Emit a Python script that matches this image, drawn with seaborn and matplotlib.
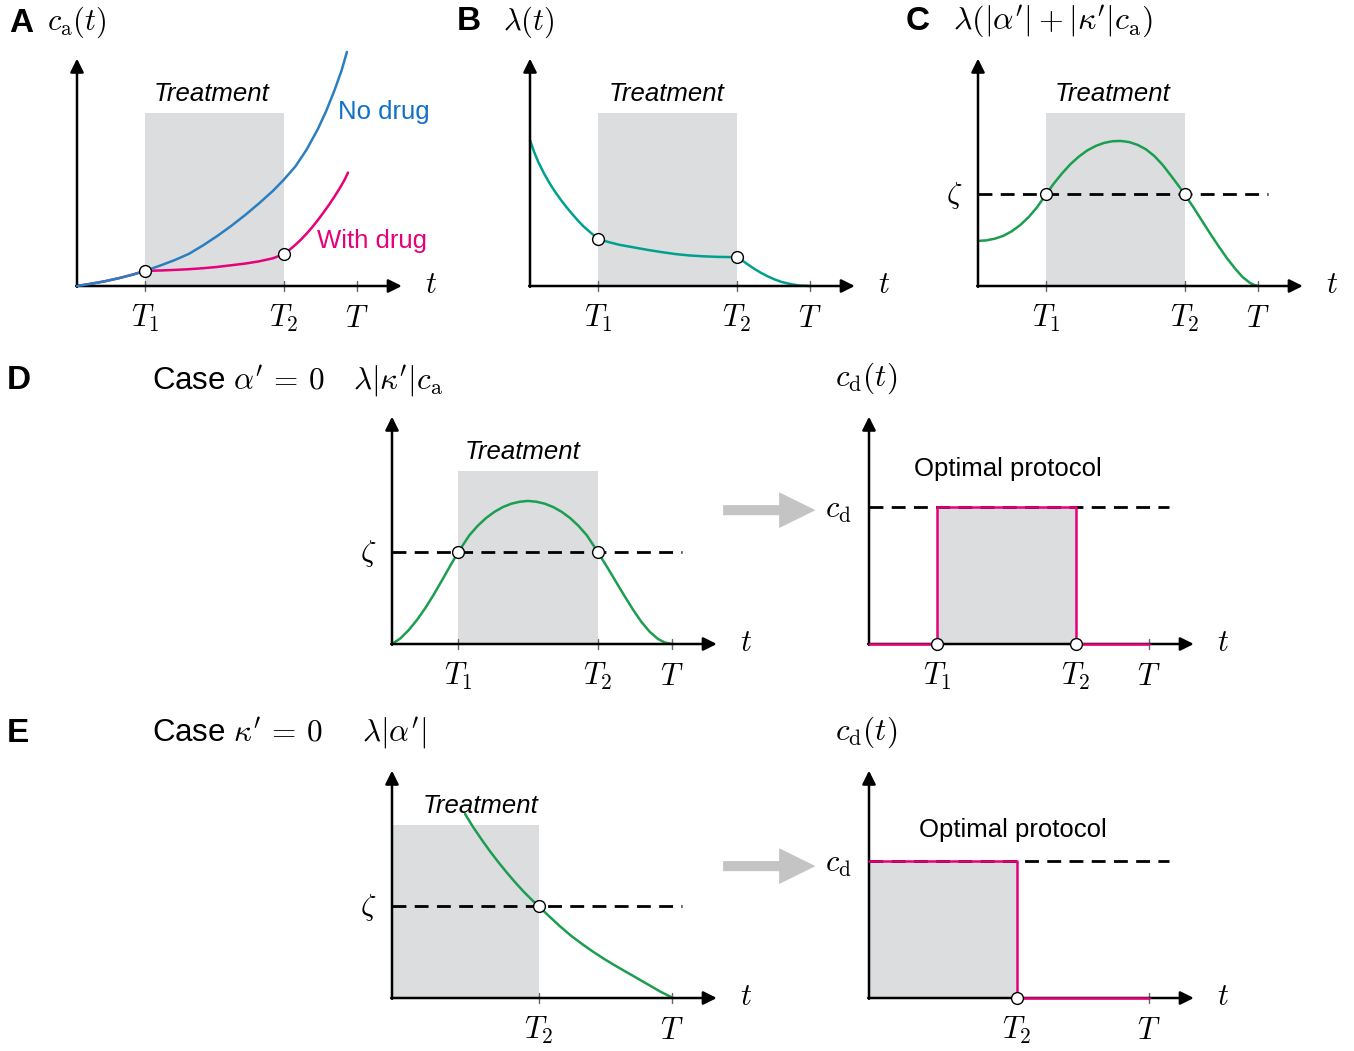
import numpy as np
import pandas as pd
import matplotlib
matplotlib.use("Agg")
import matplotlib.pyplot as plt
import seaborn as sns

sns.set_style("white")
plt.rcParams["font.family"] = ["Liberation Sans", "DejaVu Sans"]
plt.rcParams["mathtext.fontset"] = "cm"
plt.rcParams["text.color"] = "black"
plt.rcParams["lines.solid_joinstyle"] = "round"
plt.rcParams["lines.solid_capstyle"] = "round"

# ---------------- data (schematic units) ----------------
T1, T2, T = 2.43, 7.38, 10.0
T1_D, T2_D = 2.36, 7.36
T2_E = 5.25
T2_ER = 5.29
zeta = 3.27
cd_level = 4.89
shade_top = 6.18

tick_labels_3 = [r"$T_1$", r"$T_2$", r"$T$"]
tick_labels_2 = [r"$T_2$", r"$T$"]

# Panel A: c_a(t)
a_t = [0, 0.5, 1, 1.5, 2, 2.43, 3, 3.5, 4, 4.5, 5, 5.5, 6, 6.5, 7, 7.38, 7.8, 8.2, 8.6, 8.9, 9.2, 9.45, 9.64]
a_nodrug = [0, 0.08, 0.17, 0.28, 0.41, 0.54, 0.74, 0.93, 1.15, 1.45, 1.78, 2.14, 2.53, 2.95, 3.4, 3.79, 4.27, 4.87, 5.6, 6.25, 7.0, 7.7, 8.36]
a_drug_t = [0, 0.5, 1, 1.5, 2, 2.43, 3, 3.5, 4, 4.5, 5, 5.5, 6, 6.5, 7, 7.38, 7.6, 7.8, 8.0, 8.2, 8.4, 8.6, 8.8, 9.0, 9.2, 9.4, 9.55, 9.68]
a_drug = [0, 0.08, 0.17, 0.28, 0.41, 0.54, 0.555, 0.575, 0.6, 0.635, 0.68, 0.74, 0.8, 0.88, 0.99, 1.14, 1.3, 1.47, 1.66, 1.87, 2.1, 2.35, 2.62, 2.9, 3.2, 3.52, 3.78, 4.05]

# Panel B: lambda(t)
b_t = [0, 0.15, 0.3, 0.5, 0.7, 0.9, 1.1, 1.3, 1.5, 1.7, 1.9, 2.15, 2.43, 2.8, 3.2, 3.7, 4.2, 4.7, 5.2, 5.7, 6.2, 6.7, 7.38,
       7.55, 7.75, 8.0, 8.25, 8.5, 8.75, 9.0, 9.3, 9.6, 10]
b_val = [5.21, 4.78, 4.42, 4.02, 3.67, 3.36, 3.08, 2.82, 2.58, 2.35, 2.14, 1.92, 1.68, 1.57, 1.47, 1.38, 1.29, 1.21, 1.14, 1.09, 1.06, 1.04, 1.03,
         0.93, 0.79, 0.62, 0.47, 0.34, 0.23, 0.14, 0.07, 0.02, 0.0]

# Panel C: lambda(|alpha'| + |kappa'| c_a)
c_t = [0, 0.3, 0.6, 0.9, 1.2, 1.5, 1.8, 2.1, 2.43, 2.7, 3.0, 3.3, 3.6, 3.9, 4.2, 4.5, 4.8, 5.1, 5.4, 5.7, 6.0, 6.3, 6.6, 6.9, 7.2, 7.38,
       7.7, 8.0, 8.3, 8.6, 8.9, 9.2, 9.45, 9.7, 9.85, 10]
c_val = [1.61, 1.63, 1.69, 1.79, 1.95, 2.17, 2.45, 2.8, 3.27, 3.65, 4.02, 4.35, 4.62, 4.84, 5.0, 5.11, 5.17, 5.18, 5.14, 5.04, 4.88, 4.64, 4.32, 3.93, 3.53, 3.27,
         2.8, 2.33, 1.86, 1.41, 0.98, 0.6, 0.32, 0.12, 0.04, 0.0]

# Panel D: lambda|kappa'|c_a
d_t = [0, 0.3, 0.6, 0.9, 1.2, 1.5, 1.8, 2.1, 2.36, 2.76, 3.06, 3.36, 3.66, 3.96, 4.26, 4.56, 4.86, 5.16, 5.46, 5.76, 6.06, 6.36, 6.66, 6.96, 7.36,
       7.7, 8.0, 8.3, 8.6, 8.9, 9.2, 9.5, 9.75, 10]
d_val = [0, 0.2, 0.5, 0.87, 1.3, 1.78, 2.3, 2.83, 3.27, 3.88, 4.22, 4.5, 4.72, 4.89, 5.01, 5.08, 5.11, 5.08, 5.01, 4.89, 4.72, 4.5, 4.22, 3.88, 3.27,
         2.72, 2.22, 1.72, 1.24, 0.8, 0.44, 0.18, 0.05, 0.0]

# Panel E: lambda|alpha'|
e_t = [2.61, 2.9, 3.2, 3.5, 3.8, 4.1, 4.4, 4.7, 5.0, 5.25, 5.6, 6.0, 6.4, 6.8, 7.2, 7.6, 8.0, 8.4, 8.8, 9.2, 9.6, 10]
e_val = [6.57, 6.1, 5.66, 5.24, 4.85, 4.48, 4.13, 3.8, 3.5, 3.27, 2.93, 2.56, 2.22, 1.92, 1.64, 1.38, 1.14, 0.91, 0.68, 0.45, 0.22, 0.02]

# Optimal protocols (step functions)
pd_t = [0, T1, T1, T2, T2, T]
pd_c = [0, 0, cd_level, cd_level, 0, 0]
pe_t = [0, T2_ER, T2_ER, T]
pe_c = [cd_level, cd_level, 0, 0]

# ---------------- style ----------------
BLUE = "#2b7fc1"
BLUE_TXT = "#1170c8"
PINK = "#e6007a"
TEAL = "#00a08e"
GREEN = "#1b9e50"
SHADE = "#dcdddf"
ARROW_GRAY = "#c4c4c4"

W, H = 1354, 1051
S = 28.0  # pixels per unit
fig = plt.figure(figsize=(W / 100, H / 100), dpi=100)

XMIN, XMAX, YMIN, YMAX = -2.0, 13.0, -2.0, 8.6


def panel(ox, oy):
    left = (ox + XMIN * S) / W
    bottom = 1 - (oy - YMIN * S) / H
    ax = fig.add_axes([left, bottom, (XMAX - XMIN) * S / W, (YMAX - YMIN) * S / H])
    ax.set_xlim(XMIN, XMAX)
    ax.set_ylim(YMIN, YMAX)
    ax.axis("off")
    ax.patch.set_alpha(0)
    return ax


def axes_arrows(ax, ticks, labels, ytop=8.12):
    ap = dict(arrowstyle="-|>", lw=1.8, color="k", mutation_scale=20, shrinkA=0, shrinkB=0)
    ax.annotate("", xy=(11.6, 0), xytext=(-0.03, 0), arrowprops=ap, annotation_clip=False)
    ax.annotate("", xy=(0, ytop), xytext=(0, -0.03), arrowprops=ap, annotation_clip=False)
    for tx, lab in zip(ticks, labels):
        ax.plot([tx, tx], [-0.18, 0.18], color="#666666", lw=1.0, zorder=2, clip_on=False)
        ax.text(tx, -1.17, lab, ha="center", va="center", fontsize=22, clip_on=False)
    ax.text(12.65, 0.05, r"$t$", ha="center", va="center", fontsize=22)


def line(ax, xs, ys, color, z=3):
    sns.lineplot(x=xs, y=ys, ax=ax, color=color, lw=1.8, sort=False, estimator=None, zorder=z)


def circles(ax, xs, ys):
    ax.plot(xs, ys, "o", ms=8.5, mfc="white", mec="black", mew=1.0, zorder=6, clip_on=False)


def treatment(ax, x0, x1, label_x):
    ax.fill_between([x0, x1], 0, shade_top, color=SHADE, lw=0, zorder=0)
    ax.text(label_x, 6.84, "Treatment", style="italic", ha="center", va="center", fontsize=18.5)


# ---------------- Panel A ----------------
axA = panel(77, 286)
treatment(axA, T1, T2, 4.82)
line(axA, a_drug_t, a_drug, PINK)
line(axA, a_t, a_nodrug, BLUE, z=4)
axes_arrows(axA, [T1, T2, T], tick_labels_3)
circles(axA, [T1, T2], [a_drug[5], a_drug[15]])
axA.text(10.95, 6.2, "No drug", color=BLUE_TXT, ha="center", va="center", fontsize=18.5)
axA.text(10.53, 1.6, "With drug", color=PINK, ha="center", va="center", fontsize=18.5)

# ---------------- Panel B ----------------
axB = panel(530, 286)
treatment(axB, T1, T2, 4.89)
line(axB, b_t, b_val, TEAL)
axes_arrows(axB, [T1, T2, T], tick_labels_3)
circles(axB, [T1, T2], [b_val[12], b_val[22]])

# ---------------- Panel C ----------------
axC = panel(978, 286)
treatment(axC, T1, T2, 4.79)
axC.plot([0, 10.36], [zeta, zeta], color="k", lw=2.0, dashes=(5, 3), zorder=2)
line(axC, c_t, c_val, GREEN)
axes_arrows(axC, [T1, T2, T], tick_labels_3)
circles(axC, [T1, T2], [zeta, zeta])
axC.text(-0.85, zeta - 0.05, r"$\zeta$", ha="center", va="center", fontsize=22)

# ---------------- Panel D left ----------------
axD = panel(392, 644)
treatment(axD, T1_D, T2_D, 4.68)
axD.plot([0, 10.36], [zeta, zeta], color="k", lw=2.0, dashes=(5, 3), zorder=2)
line(axD, d_t, d_val, GREEN)
axes_arrows(axD, [T1_D, T2_D, T], tick_labels_3)
circles(axD, [T1_D, T2_D], [zeta, zeta])
axD.text(-0.86, zeta - 0.05, r"$\zeta$", ha="center", va="center", fontsize=22)

# ---------------- Panel D right ----------------
axDR = panel(869, 644)
axDR.fill_between([T1, T2], 0, cd_level, color=SHADE, lw=0, zorder=0)
axDR.plot([0, 10.7], [cd_level, cd_level], color="k", lw=2.0, dashes=(5, 3), zorder=2)
axes_arrows(axDR, [T1, T2, T], tick_labels_3)
line(axDR, pd_t, pd_c, PINK, z=4)
circles(axDR, [T1, T2], [0, 0])
axDR.text(-1.1, cd_level - 0.12, r"$c_\mathrm{d}$", ha="center", va="center", fontsize=22)
axDR.text(4.96, 6.26, "Optimal protocol", ha="center", va="center", fontsize=18.5)
axDR.arrow(-5.21, 4.78, 3.3, 0, width=0.36, head_width=1.28, head_length=1.3,
           length_includes_head=True, color=ARROW_GRAY, lw=0, clip_on=False)

# ---------------- Panel E left ----------------
axE = panel(392, 998)
treatment(axE, 0, T2_E, 3.18)
axE.plot([0, 10.36], [zeta, zeta], color="k", lw=2.0, dashes=(5, 3), zorder=2)
line(axE, e_t, e_val, GREEN)
axes_arrows(axE, [T2_E, T], tick_labels_2)
circles(axE, [T2_E], [zeta])
axE.text(-0.86, zeta - 0.05, r"$\zeta$", ha="center", va="center", fontsize=22)

# ---------------- Panel E right ----------------
axER = panel(869, 998)
axER.fill_between([0, T2_ER], 0, cd_level, color=SHADE, lw=0, zorder=0)
axER.plot([0, 10.7], [cd_level, cd_level], color="k", lw=2.0, dashes=(5, 3), zorder=2)
axes_arrows(axER, [T2_ER, T], tick_labels_2)
line(axER, pe_t, pe_c, PINK, z=4)
circles(axER, [T2_ER], [0])
axER.text(-1.1, cd_level - 0.12, r"$c_\mathrm{d}$", ha="center", va="center", fontsize=22)
axER.text(5.14, 6.0, "Optimal protocol", ha="center", va="center", fontsize=18.5)
axER.arrow(-5.21, 4.71, 3.3, 0, width=0.36, head_width=1.28, head_length=1.3,
           length_includes_head=True, color=ARROW_GRAY, lw=0, clip_on=False)

for ax in fig.axes:
    leg = ax.get_legend()
    if leg:
        leg.remove()

# ---------------- titles ----------------
def ftext(px, py, s, **kw):
    fig.text(px / W, 1 - py / H, s, **kw)

ftext(9, 24, "A", fontsize=24, fontweight="bold", va="center", ha="left")
ftext(47, 22, r"$c_\mathrm{a}(t)$", fontsize=22, va="center", ha="left")
ftext(457, 22, "B", fontsize=24, fontweight="bold", va="center", ha="left")
ftext(503, 22, r"$\lambda(t)$", fontsize=22, va="center", ha="left")
ftext(906, 22, "C", fontsize=24, fontweight="bold", va="center", ha="left")
ftext(953, 22, r"$\lambda(|\alpha'| + |\kappa'| c_\mathrm{a})$", fontsize=23, va="center", ha="left")

ftext(7, 380, "D", fontsize=24, fontweight="bold", va="center", ha="left")
ftext(152, 381, r"Case $\alpha' \,=\, 0$", fontsize=22.5, va="center", ha="left")
ftext(353, 381, r"$\lambda|\kappa'|c_\mathrm{a}$", fontsize=22.5, va="center", ha="left")
ftext(835, 378, r"$c_\mathrm{d}(t)$", fontsize=22.5, va="center", ha="left")

ftext(7, 734, "E", fontsize=24, fontweight="bold", va="center", ha="left")
ftext(152, 733, r"Case $\kappa' \,=\, 0$", fontsize=22.5, va="center", ha="left")
ftext(362, 733, r"$\lambda|\alpha'|$", fontsize=22.5, va="center", ha="left")
ftext(835, 732, r"$c_\mathrm{d}(t)$", fontsize=22.5, va="center", ha="left")

fig.savefig("out.png", dpi=100)
